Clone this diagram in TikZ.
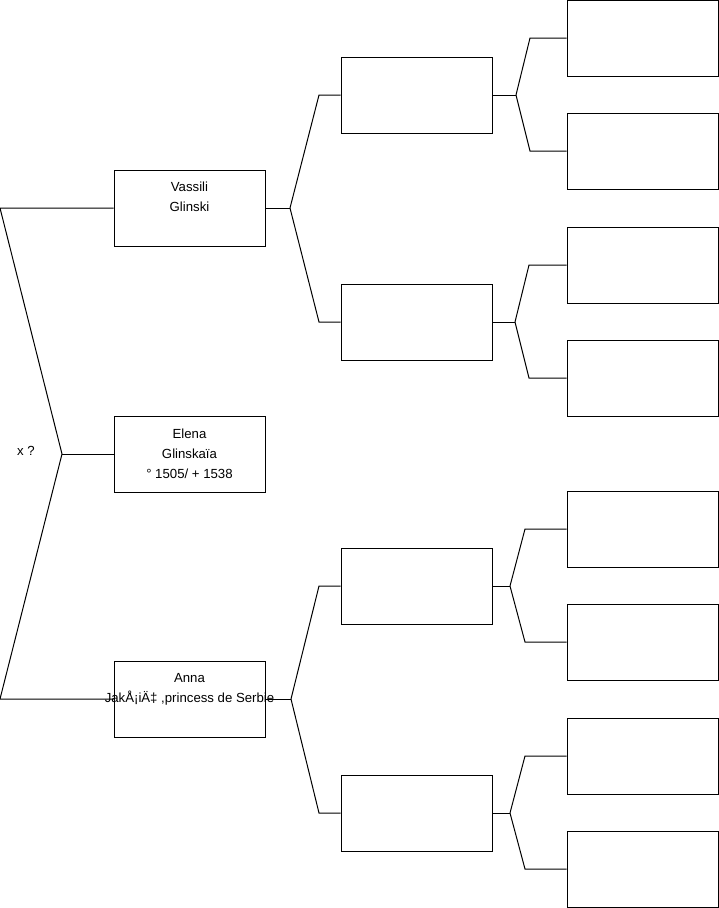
\documentclass[tikz,border=0pt]{standalone}
\usepackage{fontspec}
\setmainfont{Liberation Sans}
\usetikzlibrary{calc, positioning}

\begin{document}
\begin{tikzpicture}[
					x=1pt, y=-1pt,
					personbox/.style={
						draw,
						rectangle,
						line width=1pt,
						minimum width=151pt,
						minimum height=76pt,
						inner sep=0pt
					},
					nametext/.style={
						anchor=north,
						align=center,
						inner sep=0pt,
						font=\fontsize{13.2}{20}\selectfont
					},
					link/.style={
						line width=1pt,
						line join=miter
					}
					]
					
					\useasboundingbox (0,0) rectangle (719,908);
					
					% First generation
					\node (vassili) [personbox] at (189.5, 208) {};
					\node (elena) [personbox] at (189.5, 454) {};
					\node (anna) [personbox] at (189.5, 699) {};
					
					\node (vassilitext) [nametext] at ($(vassili.north)+(0,12.5)$) {Vassili \\ Glinski};
					\node (elenatext) [nametext] at ($(elena.north)+(0,13.5)$) {Elena \\ Glinskaïa \\ ° 1505/ + 1538};
					\node (annatext) [nametext] at ($(anna.north)+(0,12.5)$) {Anna \\ JakÅ¡iÄ‡ ,princess de Serbie};
					
					\node (spouse) [font=\fontsize{13.2}{20}\selectfont, inner sep=0pt] at (26, 451) {x ?};
					
					% Second generation
					\node (gpa) [personbox] at (416.5, 95) {};
					\node (gpb) [personbox] at (416.5, 322) {};
					\node (gpc) [personbox] at (416.5, 586) {};
					\node (gpd) [personbox] at (416.5, 813) {};
					
					% Third generation
					\foreach \y [count=\i] in {38, 151, 265, 378, 529, 642, 756, 869}
						\node (ggp\i) [personbox] at (642.5, \y) {};
					
					% Left fork
					\coordinate (forkroot) at (62, 454);
					\draw [link] (vassili.west) -- (0, 208) -- (forkroot) -- (0, 699) -- (anna.west);
					\draw [link] (forkroot) -- (elena.west);
					
					% Forks to second generation
					\coordinate (forkv) at (290, 208);
					\coordinate (forka) at (291, 699);
					\draw [link] (vassili.east) -- (forkv);
					\draw [link] (forkv) -- (319, 95) -- (gpa.west);
					\draw [link] (forkv) -- (319, 322) -- (gpb.west);
					\draw [link] (anna.east) -- (forka);
					\draw [link] (forka) -- (319, 586) -- (gpc.west);
					\draw [link] (forka) -- (319, 813) -- (gpd.west);
					
					% Forks to third generation
					\coordinate (forkgpa) at (516, 95);
					\coordinate (forkgpb) at (515, 322);
					\coordinate (forkgpc) at (510, 586);
					\coordinate (forkgpd) at (510, 813);
					\draw [link] (gpa.east) -- (forkgpa);
					\draw [link] (forkgpa) -- (530, 38) -- (ggp1.west);
					\draw [link] (forkgpa) -- (530, 151) -- (ggp2.west);
					\draw [link] (gpb.east) -- (forkgpb);
					\draw [link] (forkgpb) -- (529, 265) -- (ggp3.west);
					\draw [link] (forkgpb) -- (529, 378) -- (ggp4.west);
					\draw [link] (gpc.east) -- (forkgpc);
					\draw [link] (forkgpc) -- (525, 529) -- (ggp5.west);
					\draw [link] (forkgpc) -- (525, 642) -- (ggp6.west);
					\draw [link] (gpd.east) -- (forkgpd);
					\draw [link] (forkgpd) -- (525, 756) -- (ggp7.west);
					\draw [link] (forkgpd) -- (525, 869) -- (ggp8.west);
					
				\end{tikzpicture}
\end{document}
